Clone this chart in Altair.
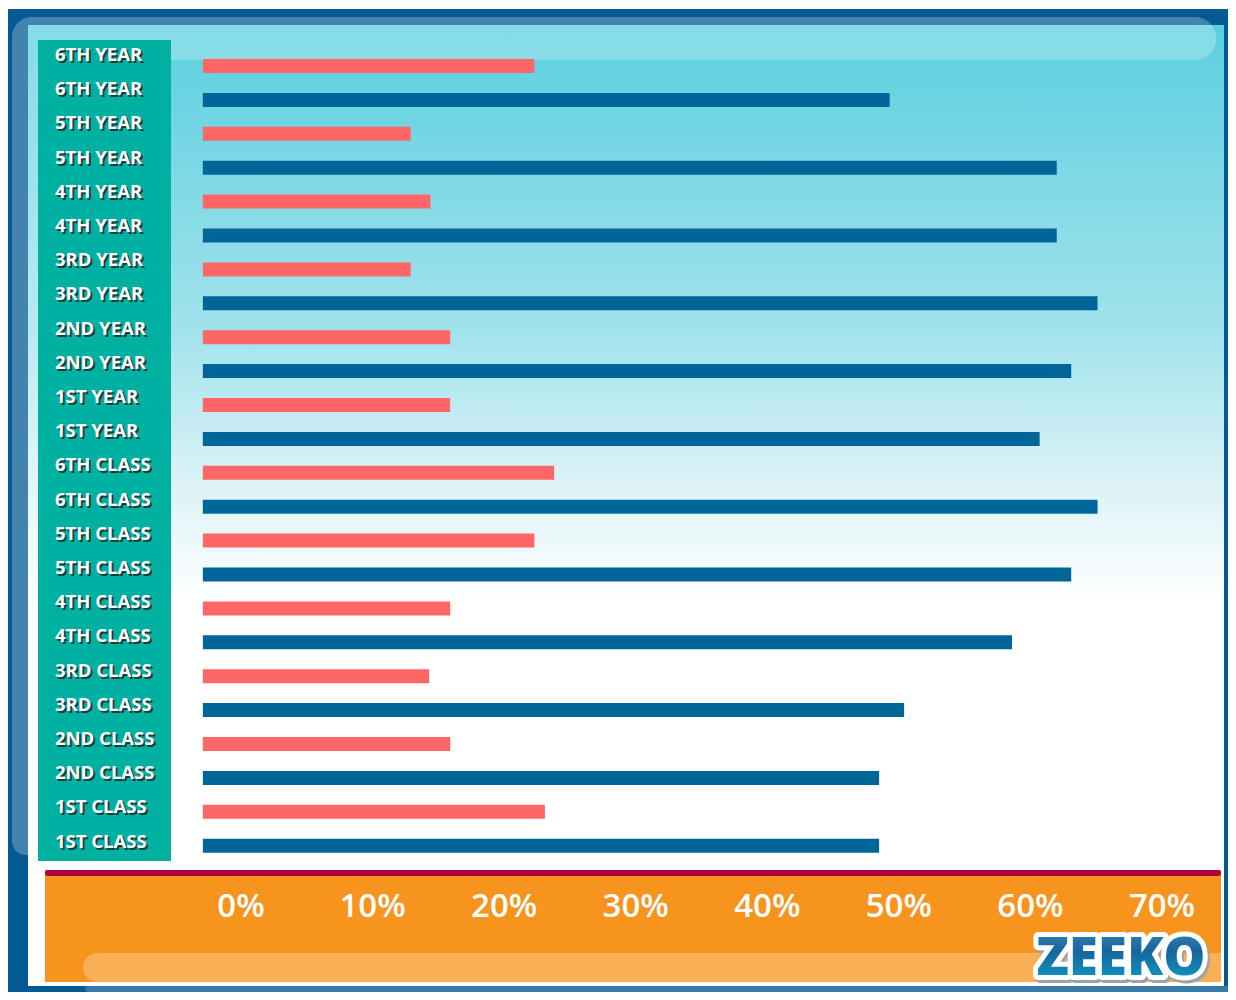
import altair as alt
import pandas as pd

# ---- data ----
categories = ["6TH YEAR", "5TH YEAR", "4TH YEAR", "3RD YEAR", "2ND YEAR", "1ST YEAR",
              "6TH CLASS", "5TH CLASS", "4TH CLASS", "3RD CLASS", "2ND CLASS", "1ST CLASS"]
red_values = [22.3, 12.9, 14.4, 12.9, 15.9, 15.9, 23.8, 22.3, 15.9, 14.3, 15.9, 23.1]
blue_values = [49.3, 62.0, 62.0, 65.1, 63.1, 60.7, 65.1, 63.1, 58.6, 50.4, 48.5, 48.5]
series_names = ["Series 1", "Series 2"]
tick_values = [0, 10, 20, 30, 40, 50, 60, 70]
tick_labels = ["0%", "10%", "20%", "30%", "40%", "50%", "60%", "70%"]
brand = "ZEEKO"

rows = []
for i, cat in enumerate(categories):
    rows.append({"row": 2 * i, "label": cat, "series": series_names[0], "value": red_values[i]})
    rows.append({"row": 2 * i + 1, "label": cat, "series": series_names[1], "value": blue_values[i]})
df = pd.DataFrame(rows)
ticks = pd.DataFrame({"tick": tick_values, "text": tick_labels})

W, H = 1220, 984
FONT = "Open Sans"
one = alt.Data(values=[{"k": 1}])

x_scale = alt.Scale(domain=[0, 70], range=[233, 1154])
bar_y = alt.Scale(domain=[0, 23], range=[58, 837.7])
lab_y = alt.Scale(domain=[0, 23], range=[47, 833.7])


def rect(x, x2, y, y2, color, opacity=1.0, **kw):
    return alt.Chart(one).mark_rect(color=color, opacity=opacity, **kw).encode(
        x=alt.value(x), x2=alt.value(x2), y=alt.value(y), y2=alt.value(y2))


bg_grad = alt.LinearGradient(
    gradient="linear", x1=0, x2=0, y1=0, y2=1,
    stops=[alt.GradientStop(color="#5bcfdf", offset=0),
           alt.GradientStop(color="#a2e3ec", offset=0.32),
           alt.GradientStop(color="#d6f1f6", offset=0.46),
           alt.GradientStop(color="#ffffff", offset=0.6),
           alt.GradientStop(color="#ffffff", offset=1)])

frame = rect(0, W, 1, H, "#045b93")
inner = rect(20, 1216, 17, 978, bg_grad)
hl_top = rect(4, 1208, 9, 52, "#ffffff", 0.25, cornerRadiusTopLeft=20,
              cornerRadiusTopRight=21, cornerRadiusBottomRight=21)
hl_left = rect(4, 32, 52, 847, "#ffffff", 0.25, cornerRadiusBottomLeft=14,
               cornerRadiusBottomRight=14)
hl_bottom = rect(77, W, 978, H, "#ffffff", 0.2, cornerRadiusTopLeft=6,
                 cornerRadiusBottomLeft=6)
panel = rect(30, 163, 32, 853, "#00b1a2")
orange = rect(37, 1213, 862, 974, "#f7941d")
orange_hl = rect(75, 1213, 945, 974, "#ffffff", 0.25, cornerRadiusTopLeft=15,
                 cornerRadiusBottomLeft=15)
red_line = alt.Chart(one).mark_rule(color="#b0003a", strokeWidth=6, strokeCap="round").encode(
    x=alt.value(40), x2=alt.value(1210), y=alt.value(865))

bars = alt.Chart(df).mark_rule(strokeWidth=14).encode(
    x=alt.X("value:Q", scale=x_scale, axis=None),
    x2=alt.datum(-2.9),
    y=alt.Y("row:Q", scale=bar_y, axis=None),
    color=alt.Color("series:N", scale=alt.Scale(domain=series_names, range=["#ff6666", "#006699"]),
                    legend=None),
)

lab_shadow = alt.Chart(df).mark_text(
    align="left", baseline="middle", font=FONT, fontSize=18.5, fontWeight="bold",
    color="#17403b", dx=2, dy=2).encode(
    x=alt.value(47), y=alt.Y("row:Q", scale=lab_y, axis=None), text="label:N")
lab_text = alt.Chart(df).mark_text(
    align="left", baseline="middle", font=FONT, fontSize=18.5, fontWeight="bold",
    color="#ffffff").encode(
    x=alt.value(47), y=alt.Y("row:Q", scale=lab_y, axis=None), text="label:N")

tick_text = alt.Chart(ticks).mark_text(
    align="center", baseline="middle", font=FONT, fontSize=33, fontWeight=600,
    color="#ffffff").encode(
    x=alt.X("tick:Q", scale=x_scale, axis=None), y=alt.value(899), text="text:N")

logo_grad = alt.LinearGradient(
    gradient="linear", x1=0, x2=0, y1=0, y2=1,
    stops=[alt.GradientStop(color="#4a93c0", offset=0),
           alt.GradientStop(color="#17659c", offset=0.45),
           alt.GradientStop(color="#0aa9d0", offset=1)])
logo_data = alt.Data(values=[{"t": brand}])
LX, LY, LS = 1113, 951, 53
logo_shadow = alt.Chart(logo_data).mark_text(
    font=FONT, fontSize=LS, fontWeight=800, align="center", baseline="middle",
    color="#9aa3aa", stroke="#9aa3aa", strokeWidth=10, strokeJoin="round", dx=2, dy=3).encode(
    x=alt.value(LX), y=alt.value(LY), text="t:N")
logo_outline = alt.Chart(logo_data).mark_text(
    font=FONT, fontSize=LS, fontWeight=800, align="center", baseline="middle",
    color="#ffffff", stroke="#ffffff", strokeWidth=10, strokeJoin="round").encode(
    x=alt.value(LX), y=alt.value(LY), text="t:N")
logo_fill = alt.Chart(logo_data).mark_text(
    font=FONT, fontSize=LS, fontWeight=800, align="center", baseline="middle",
    color=logo_grad).encode(
    x=alt.value(LX), y=alt.value(LY), text="t:N")

chart = alt.layer(
    frame, inner, hl_top, hl_left, hl_bottom, panel, orange, orange_hl, red_line,
    bars, lab_shadow, lab_text, tick_text, logo_shadow, logo_outline, logo_fill
).resolve_scale(y="independent").properties(
    width=W, height=H, autosize=alt.AutoSizeParams(type="none"), padding=0,
    background="#ffffff"
).configure_view(stroke=None)

chart.save("out.html", embed_options={"renderer": "svg", "actions": False})
